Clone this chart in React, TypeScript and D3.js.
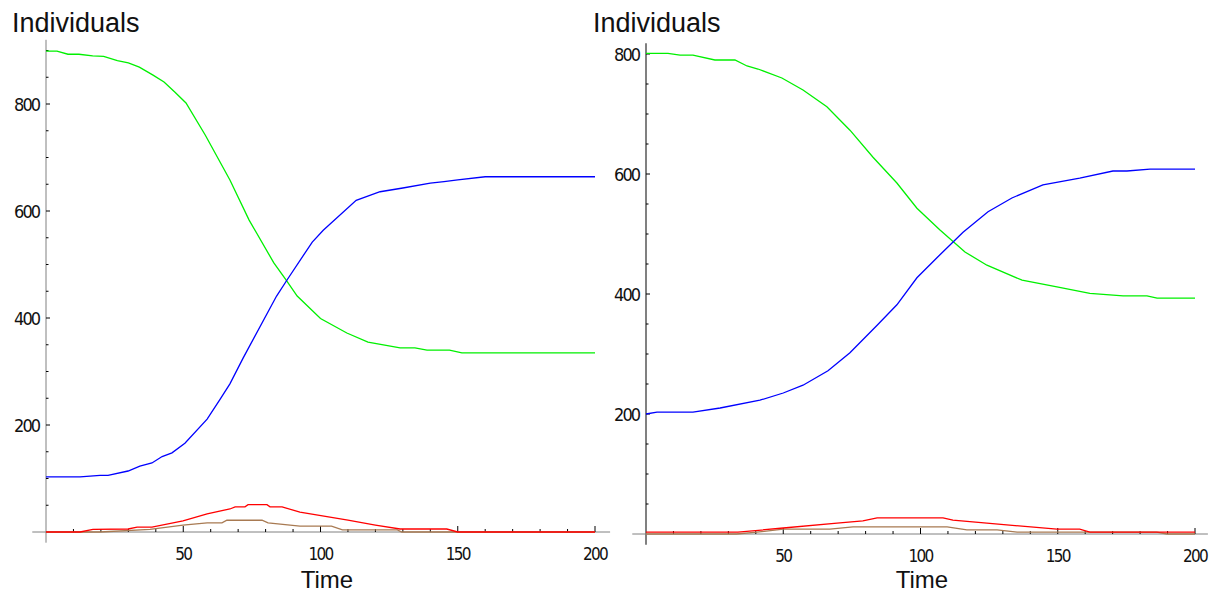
import React, { useRef, useEffect } from 'react';
import * as d3 from 'd3';

// [time, individuals]
const leftSusceptible = [[0, 899], [4, 899], [8, 893], [12, 893], [17, 890], [21, 889], [26, 881], [30, 877], [34, 869], [39, 854], [43, 841], [47, 822], [51, 802], [58, 742], [67, 658], [74, 583], [83, 503], [87.5, 471], [91.5, 441], [100, 399], [109.6, 372], [117.3, 355], [129, 344], [134.4, 344], [138.8, 340], [147, 340], [151.5, 335], [200, 335]];
const leftRecovered = [[0, 103], [12.4, 103], [19.7, 106], [22.6, 106], [29.9, 114], [34.2, 123], [38.6, 129], [42.3, 141], [45.9, 148], [50.6, 166], [58.7, 211], [63.4, 248], [67, 277], [71.8, 325], [84, 441], [87.8, 471], [97, 542], [101, 564], [113, 620], [121.7, 636], [130, 643], [140, 652], [145, 655], [150, 658], [160, 664], [200, 664]];
const leftInfected = [[0, 0], [12.4, 0], [17.1, 5], [29.9, 5.6], [33.2, 9], [38.6, 9], [49.9, 21], [58.7, 34], [67, 43], [68.9, 47], [72.5, 47], [73.6, 51], [80.5, 51], [81.6, 47], [86, 47], [92.5, 37], [110, 22], [120, 13], [129, 5.6], [146, 5.6], [150, 0], [200, 0]];
const leftOther = [[0, 0], [19.7, 0], [37.9, 5], [49.9, 13], [58.7, 17], [64.1, 17], [65.9, 22], [78.7, 22], [80.9, 17], [92.5, 11], [104, 11], [108, 4], [128, 4], [129.6, 0], [200, 0]];

const rightSusceptible = [[0, 801], [8, 801], [12.4, 798], [17.1, 798], [25.1, 790], [32.4, 790], [36.8, 780], [40.8, 775], [49.5, 760], [57.2, 740], [65.9, 712], [74.3, 673], [82.7, 628], [91.4, 585], [98.7, 543], [107, 507], [116.2, 470], [124.2, 448], [137, 423], [149.7, 412], [161.7, 401], [173.8, 397], [182.5, 397], [186.2, 393], [200, 393]];
const rightRecovered = [[0, 200], [4, 203], [17.1, 203], [27, 210], [41.5, 223], [50, 235], [57.2, 248], [66.3, 272], [74.3, 302], [84.2, 348], [91.4, 382], [98.7, 427], [107, 465], [115.5, 503], [124.6, 537], [133.3, 560], [144.6, 582], [158, 593], [170.1, 605], [175.2, 605], [183.6, 608], [200, 608]];
const rightInfected = [[0, 3], [33.5, 3], [50, 10], [69.6, 18], [79, 22], [84.2, 27], [108.2, 27], [111.8, 23], [149.7, 8], [158, 8], [161.7, 3], [200, 3]];
const rightOther = [[0, 0], [33, 0], [40.4, 3], [50, 8], [67, 8], [75.4, 12], [109.7, 12], [116.9, 7], [127.9, 7], [135.2, 3], [186, 3], [189.8, 0], [200, 0]];

const xTicks = [50, 100, 150, 200];
const yTicks = [200, 400, 600, 800];

const panels = [
  {
    x0: 46, x1: 595, xDomain: [-5, 205.5],
    yBase: 532, yPerUnit: 0.535, yDomain: [-20, 920], yAxisWidth: 1,
    titleX: 12, timeX: 327,
    series: [
      { data: leftSusceptible, color: '#00f000' },
      { data: leftRecovered, color: '#0000ff' },
      { data: leftOther, color: '#a87a52' },
      { data: leftInfected, color: '#ff0000' },
    ],
  },
  {
    x0: 646, x1: 1195, xDomain: [-5, 204.7],
    yBase: 534, yPerUnit: 0.6, yDomain: [-18, 818], yAxisWidth: 2,
    titleX: 593, timeX: 922,
    series: [
      { data: rightSusceptible, color: '#00f000' },
      { data: rightRecovered, color: '#0000ff' },
      { data: rightOther, color: '#a87a52' },
      { data: rightInfected, color: '#ff0000' },
    ],
  },
];

const App = () => {
  const svgRef = useRef(null);

  useEffect(() => {
    if (!svgRef.current) return;
    const svg = d3.select(svgRef.current);
    svg.selectAll('*').remove();

    panels.forEach(p => {
      const x = d3.scaleLinear().domain([0, 200]).range([p.x0, p.x1]);
      const y = d3.scaleLinear().domain([0, 800]).range([p.yBase, p.yBase - 800 * p.yPerUnit]);
      const g = svg.append('g');

      // x axis line
      g.append('line')
        .attr('x1', x(p.xDomain[0])).attr('x2', x(p.xDomain[1]))
        .attr('y1', y(0)).attr('y2', y(0))
        .attr('stroke', '#808080').attr('stroke-width', 1);

      // y axis line
      g.append('line')
        .attr('x1', x(0)).attr('x2', x(0))
        .attr('y1', y(p.yDomain[0])).attr('y2', y(p.yDomain[1]))
        .attr('stroke', '#808080').attr('stroke-width', p.yAxisWidth);

      // x ticks (inside, pointing up)
      d3.range(10, 201, 10).forEach(t => {
        const major = t % 50 === 0;
        g.append('line')
          .attr('x1', x(t)).attr('x2', x(t))
          .attr('y1', y(0)).attr('y2', y(0) - (major ? 6 : 3))
          .attr('stroke', '#000').attr('stroke-width', 1);
      });
      xTicks.forEach(t => {
        g.append('text')
          .attr('x', x(t)).attr('y', y(0) + 27.5)
          .attr('text-anchor', 'middle')
          .style('font-family', '"DejaVu Sans Condensed", "DejaVu Sans"')
          .style('font-size', '17px')
          .style('letter-spacing', '-1.8px')
          .attr('fill', '#111')
          .text(t);
      });

      // y ticks (pointing right)
      d3.range(50, p.yDomain[1], 50).forEach(v => {
        const major = v % 200 === 0;
        g.append('line')
          .attr('x1', x(0)).attr('x2', x(0) + (major ? 4 : 2.5))
          .attr('y1', y(v)).attr('y2', y(v))
          .attr('stroke', '#000').attr('stroke-width', 1);
      });
      yTicks.forEach(v => {
        g.append('text')
          .attr('x', x(0) - 7).attr('y', y(v) + 6.5)
          .attr('text-anchor', 'end')
          .style('font-family', '"DejaVu Sans Condensed", "DejaVu Sans"')
          .style('font-size', '18px')
          .style('letter-spacing', '-2px')
          .attr('fill', '#111')
          .text(v);
      });

      // series
      const line = d3.line()
        .x(d => x(d[0]))
        .y(d => y(d[1]));
      p.series.forEach(s => {
        g.append('path')
          .datum(s.data)
          .attr('fill', 'none')
          .attr('stroke', s.color)
          .attr('stroke-width', 1.3)
          .attr('d', line);
      });

      // labels
      g.append('text')
        .attr('x', p.titleX).attr('y', 32)
        .style('font-family', '"Liberation Sans", Arial, sans-serif')
        .style('font-size', '27px')
        .attr('fill', '#111')
        .text('Individuals');

      g.append('text')
        .attr('x', p.timeX).attr('y', 587.5)
        .attr('text-anchor', 'middle')
        .style('font-family', '"Liberation Sans", Arial, sans-serif')
        .style('font-size', '24px')
        .attr('fill', '#111')
        .text('Time');
    });
  }, []);

  return (
    <div style={{ position: 'fixed', left: 0, top: 0, width: 1216, height: 593, background: '#fff' }}>
      <svg ref={svgRef} width={1216} height={593} style={{ display: 'block' }} />
    </div>
  );
};

export default App;
